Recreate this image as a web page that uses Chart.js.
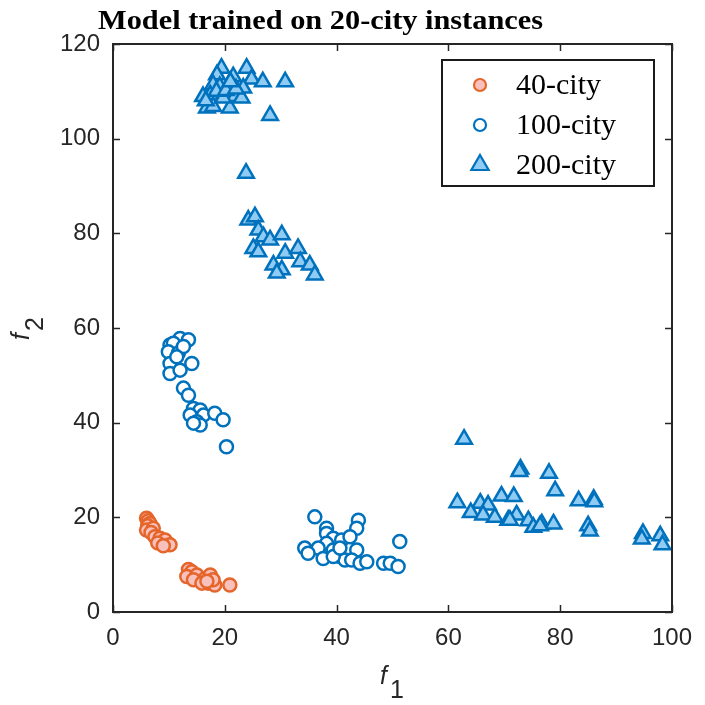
<!DOCTYPE html>
<html>
<head>
<meta charset="utf-8">
<script src="https://cdn.jsdelivr.net/npm/chart.js@4/dist/chart.umd.min.js"></script>
<style>
  html, body { margin: 0; padding: 0; background: #ffffff; }
  #wrap { width: 705px; height: 705px; }
</style>
</head>
<body>
<div id="wrap"><canvas id="c" width="705" height="705"></canvas></div>
<script>
// ---- Data ----
const seriesNames = ['40-city', '100-city', '200-city'];

const f1_40  = [6.0, 6.3, 6.6, 6.2, 6.0, 7.2, 6.8, 7.5, 8.4, 9.3, 8.0, 10.2, 9.0,
                13.5, 14.1, 13.2, 15.0, 14.4, 16.5, 17.4, 17.0, 18.2, 17.9, 20.9, 15.9, 16.8];
const f2_40  = [19.8, 19.3, 18.7, 18.2, 17.3, 17.7, 16.8, 15.9, 15.6, 15.2, 14.6, 14.2, 14.0,
                9.0, 8.5, 7.5, 7.8, 6.8, 7.1, 7.8, 6.1, 5.7, 6.8, 5.7, 6.1, 6.5];

const f1_100 = [10.2, 12.0, 13.5, 10.8, 9.9, 11.7, 12.6, 10.2, 14.1, 10.2, 12.0, 11.4,
                12.6, 13.5, 14.4, 15.6, 13.8, 16.2, 18.2, 19.7, 15.0, 15.6, 14.4, 20.3,
                36.1, 43.9, 43.6, 38.2, 38.2, 39.4, 40.9, 42.4, 38.2, 34.3, 36.7, 34.9,
                39.4, 43.6, 37.6, 40.6, 41.5, 42.7, 44.2, 45.4, 48.4, 49.6, 51.0, 51.3,
                39.4, 40.6];
const f2_100 = [56.4, 57.8, 57.5, 56.8, 55.0, 54.7, 56.1, 52.5, 52.5, 50.4, 51.1, 53.9,
                47.3, 45.8, 43.0, 42.7, 41.6, 41.6, 42.0, 40.6, 40.2, 39.5, 39.9, 34.9,
                20.1, 19.4, 17.7, 17.7, 16.6, 15.6, 15.2, 15.9, 14.5, 13.5, 13.5, 12.4,
                13.1, 13.1, 11.3, 11.7, 11.0, 11.0, 10.3, 10.6, 10.3, 10.3, 9.6, 14.9,
                11.7, 13.5];

const f1_200 = [19.4, 23.9, 21.5, 24.8, 26.8, 30.8, 18.6, 17.9, 19.1, 16.1, 17.4, 16.8,
                17.9, 20.9, 21.8, 23.0, 23.3, 19.7, 28.1, 18.5, 20.2, 22.0, 16.6, 21.0,
                23.8, 24.2, 25.4, 26.0, 26.9, 28.1, 30.2, 25.1, 26.0, 30.8, 33.1, 28.7,
                30.2, 29.3, 33.5, 35.2, 36.1,
                62.8, 72.9, 72.7, 78.0, 79.1, 69.5, 71.7, 61.6, 65.7, 67.1, 64.0, 66.2,
                68.3, 70.7, 72.2, 74.3, 75.2, 76.7, 78.8, 83.3, 86.0, 86.1, 85.0, 85.3,
                94.8, 94.6, 97.9, 98.3, 71.0, 76.4];
const f2_200 = [114.9, 114.9, 113.1, 112.6, 112.0, 112.0, 113.5, 111.4, 111.0, 108.9, 109.2, 106.5,
                106.8, 106.5, 108.9, 108.6, 110.7, 108.6, 104.9, 110.0, 110.2, 110.5, 108.0, 112.0,
                92.7, 82.8, 83.5, 80.7, 79.3, 78.6, 79.7, 76.8, 76.1, 75.8, 76.8, 73.3,
                72.3, 71.6, 74.0, 73.3, 71.2,
                36.5, 30.2, 29.7, 29.3, 25.6, 24.5, 24.4, 23.1, 23.0, 22.6, 21.0, 20.5,
                20.0, 19.4, 20.5, 19.3, 17.9, 18.6, 18.6, 23.5, 23.8, 23.3, 18.2, 17.1,
                16.6, 15.4, 16.1, 14.2, 19.4, 18.2];

const xTicks = [0, 20, 40, 60, 80, 100];
const yTicks = [0, 20, 40, 60, 80, 100, 120];
const chartTitle = 'Model trained on 20-city instances';

function pts(xs, ys) { return xs.map((v, i) => ({ x: v, y: ys[i] })); }

const ORANGE = '#E5652A', PINK = '#F8C1BC', BLUE = '#0072BD', LBLUE = '#8FCBF3', AXC = '#262626';

function fitText(ctx, text, x, y, width) {
  const w = ctx.measureText(text).width;
  ctx.save();
  ctx.translate(x, y);
  ctx.scale(width / w, 1);
  ctx.fillText(text, 0, 0);
  ctx.restore();
}

const decorPlugin = {
  id: 'decor',
  afterDatasetsDraw(chart) {
    const { ctx, chartArea: a, scales: { x, y } } = chart;
    ctx.save();
    // box + inward ticks
    ctx.strokeStyle = AXC; ctx.lineWidth = 2;
    ctx.strokeRect(a.left, a.top, a.right - a.left, a.bottom - a.top);
    ctx.lineWidth = 1.5;
    ctx.beginPath();
    xTicks.forEach(v => {
      const px = Math.round(x.getPixelForValue(v)) + 0.5;
      ctx.moveTo(px, a.bottom); ctx.lineTo(px, a.bottom - 7);
      ctx.moveTo(px, a.top); ctx.lineTo(px, a.top + 7);
    });
    yTicks.forEach(v => {
      const py = Math.round(y.getPixelForValue(v)) + 0.5;
      ctx.moveTo(a.left, py); ctx.lineTo(a.left + 7, py);
      ctx.moveTo(a.right, py); ctx.lineTo(a.right - 7, py);
    });
    ctx.stroke();

    // title
    ctx.fillStyle = '#000';
    ctx.font = 'bold 27px "Liberation Serif", "Times New Roman", serif';
    ctx.textAlign = 'left'; ctx.textBaseline = 'alphabetic';
    fitText(ctx, chartTitle, 98, 29, 445);

    // axis titles
    ctx.fillStyle = AXC;
    ctx.font = 'italic 25px "Liberation Sans", Arial, sans-serif';
    ctx.fillText('f', 380, 684);
    ctx.font = '25px "Liberation Sans", Arial, sans-serif';
    ctx.fillText('1', 390, 698);

    ctx.save();
    ctx.rotate(-Math.PI / 2);
    ctx.font = 'italic 25px "Liberation Sans", Arial, sans-serif';
    ctx.fillText('f', -340, 29);
    ctx.font = '25px "Liberation Sans", Arial, sans-serif';
    ctx.fillText('2', -331, 43);
    ctx.restore();

    // legend
    const lx = 442, ly = 60, lw = 212, lh = 126;
    ctx.fillStyle = '#fff';
    ctx.fillRect(lx, ly, lw, lh);
    ctx.strokeStyle = '#1a1a1a'; ctx.lineWidth = 2;
    ctx.strokeRect(lx, ly, lw, lh);
    const rows = [85, 125, 165];
    chart.data.datasets.forEach((ds, i) => {
      const cy = rows[i], cx = 480;
      ctx.fillStyle = ds.backgroundColor; ctx.strokeStyle = ds.borderColor; ctx.lineWidth = 2.2;
      ctx.beginPath();
      if (ds.pointStyle === 'triangle') {
        const r = 10;
        ctx.moveTo(cx, cy - r);
        ctx.lineTo(cx + r * 0.866, cy + r * 0.5);
        ctx.lineTo(cx - r * 0.866, cy + r * 0.5);
        ctx.closePath();
      } else {
        ctx.arc(cx, cy, 6, 0, Math.PI * 2);
      }
      ctx.fill(); ctx.stroke();
      ctx.fillStyle = '#000';
      ctx.font = '30px "Liberation Serif", "Times New Roman", serif';
      ctx.textAlign = 'left'; ctx.textBaseline = 'middle';
      ctx.fillText(ds.label, 516, cy + 1);
    });
    ctx.restore();
  }
};

new Chart(document.getElementById('c'), {
  type: 'scatter',
  data: {
    datasets: [
      { label: seriesNames[0], data: pts(f1_40, f2_40), pointStyle: 'circle', pointRadius: 6.5,
        backgroundColor: PINK, borderColor: ORANGE, borderWidth: 2.5 },
      { label: seriesNames[1], data: pts(f1_100, f2_100), pointStyle: 'circle', pointRadius: 6.5,
        backgroundColor: '#ffffff', borderColor: BLUE, borderWidth: 2.5 },
      { label: seriesNames[2], data: pts(f1_200, f2_200), pointStyle: 'triangle', pointRadius: 9,
        backgroundColor: LBLUE, borderColor: BLUE, borderWidth: 2.5 }
    ]
  },
  options: {
    responsive: false,
    animation: false,
    layout: { padding: { left: 0, right: 33, top: 44, bottom: 0 } },
    plugins: { legend: { display: false }, tooltip: { enabled: false }, title: { display: false } },
    scales: {
      x: {
        type: 'linear', min: 0, max: 100,
        afterBuildTicks: s => { s.ticks = xTicks.map(v => ({ value: v })); },
        afterFit: s => { s.height = 93; },
        grid: { display: false, drawTicks: false },
        border: { display: false },
        ticks: { color: AXC, padding: 12, font: { family: '"Liberation Sans", Arial, sans-serif', size: 24 } }
      },
      y: {
        type: 'linear', min: 0, max: 120,
        afterBuildTicks: s => { s.ticks = yTicks.map(v => ({ value: v })); },
        afterFit: s => { s.width = 113; },
        grid: { display: false, drawTicks: false },
        border: { display: false },
        ticks: { color: AXC, padding: 13, font: { family: '"Liberation Sans", Arial, sans-serif', size: 24 } }
      }
    }
  },
  plugins: [decorPlugin]
});
</script>
</body>
</html>
